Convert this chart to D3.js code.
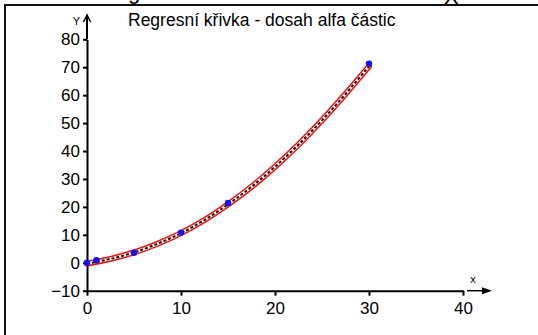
<!DOCTYPE html>
<html>
<head>
<meta charset="utf-8">
<script src="https://cdn.jsdelivr.net/npm/d3@7"></script>
<style>
  html, body { margin: 0; padding: 0; background: #fff; }
  svg { display: block; }
  text { font-family: "Liberation Sans", Arial, sans-serif; fill: #000; }
</style>
</head>
<body>
<svg id="chart" width="538" height="335"></svg>
<script>
// Measured points: energy (x) vs. range (y)
const pointX = [0, 1, 5, 10, 15, 30];
const pointY = [0, 0.9, 3.6, 10.8, 21.4, 71.3];

// Regression curve samples
const curveX = [0, 2.5, 5, 7.5, 10, 12.5, 15, 17.5, 20, 22.5, 25, 27.5, 30];
const curveY = [-0.3, 1.4, 3.7, 6.8, 10.6, 15.3, 20.9, 27.2, 34.4, 42.3, 51.0, 60.4, 70.3];

const xTicks = [0, 10, 20, 30, 40];
const yTicks = [-10, 0, 10, 20, 30, 40, 50, 60, 70, 80];

const title = "Regresní křivka - dosah alfa částic";
const xName = "x";
const yName = "Y";

const svg = d3.select("#chart");

const x = d3.scaleLinear().domain([0, 40]).range([87, 463]);
const y = d3.scaleLinear().domain([-10, 80]).range([290.7, 39.3]);

// Caption line above the frame (only its lowest strokes fall inside the page)
svg.append("text").attr("x", 128).attr("y", -1).attr("font-size", 22).text("g");
svg.append("text").attr("x", 444).attr("y", 4).attr("font-size", 22).text("X");

// Frame
svg.append("path")
  .attr("d", "M5,335 V5 H538")
  .attr("fill", "none").attr("stroke", "#111").attr("stroke-width", 2);

// Title
svg.append("text")
  .attr("x", 128).attr("y", 26)
  .attr("font-size", 17.5)
  .text(title);

// X axis
const xAxis = svg.append("g")
  .attr("transform", `translate(0,${y(-10)})`)
  .call(d3.axisBottom(x).tickValues(xTicks).tickSize(5).tickPadding(6).tickSizeOuter(0));
xAxis.select(".domain").attr("stroke", "#000").attr("stroke-width", 2);
xAxis.selectAll(".tick line").attr("stroke", "#000").attr("stroke-width", 2);
xAxis.selectAll(".tick text").attr("font-size", 17).attr("font-family", "Liberation Sans, Arial, sans-serif").attr("fill", "#000");

// Y axis
const yAxis = svg.append("g")
  .attr("transform", `translate(${x(0)},0)`)
  .call(d3.axisLeft(y).tickValues(yTicks).tickSize(4).tickPadding(3).tickSizeOuter(0));
yAxis.select(".domain").attr("stroke", "#000").attr("stroke-width", 2);
yAxis.selectAll(".tick line").attr("stroke", "#000").attr("stroke-width", 2);
yAxis.selectAll(".tick text").attr("font-size", 17).attr("font-family", "Liberation Sans, Arial, sans-serif").attr("fill", "#000");

// Y axis extension and open arrow head
svg.append("line")
  .attr("x1", x(0)).attr("x2", x(0)).attr("y1", y(80)).attr("y2", 15)
  .attr("stroke", "#000").attr("stroke-width", 2);
svg.append("path")
  .attr("d", `M${x(0) - 3.5},22 L${x(0)},15 L${x(0) + 3.5},22`)
  .attr("fill", "none").attr("stroke", "#000").attr("stroke-width", 1.5);
svg.append("text").attr("x", 80).attr("y", 25).attr("font-size", 11).attr("text-anchor", "end").text(yName);

// X axis arrow after the last tick
svg.append("line")
  .attr("x1", 467).attr("x2", 484).attr("y1", y(-10)).attr("y2", y(-10))
  .attr("stroke", "#000").attr("stroke-width", 1.5);
svg.append("path")
  .attr("d", `M482,${y(-10) - 3.5} L492,${y(-10)} L482,${y(-10) + 3.5} Z`)
  .attr("fill", "#000");
svg.append("text").attr("x", 473).attr("y", 283).attr("font-size", 11).attr("text-anchor", "middle").text(xName);

// Regression curve: red band with a black dashed core
const curve = curveX.map((v, i) => [v, curveY[i]]);
const line = d3.line().x(d => x(d[0])).y(d => y(d[1])).curve(d3.curveMonotoneX);
svg.append("path").attr("d", line(curve))
  .attr("fill", "none").attr("stroke", "#f01010").attr("stroke-width", 6).attr("stroke-linecap", "round");
svg.append("path").attr("d", line(curve))
  .attr("fill", "none").attr("stroke", "#fff").attr("stroke-width", 3);
svg.append("path").attr("d", line(curve))
  .attr("fill", "none").attr("stroke", "#111").attr("stroke-width", 2).attr("stroke-dasharray", "3,2");

// Measured points
svg.append("g").selectAll("circle")
  .data(pointX.map((v, i) => [v, pointY[i]]))
  .join("circle")
  .attr("cx", d => x(d[0])).attr("cy", d => y(d[1]))
  .attr("r", 3.2).attr("fill", "#1010f0");
</script>
</body>
</html>
